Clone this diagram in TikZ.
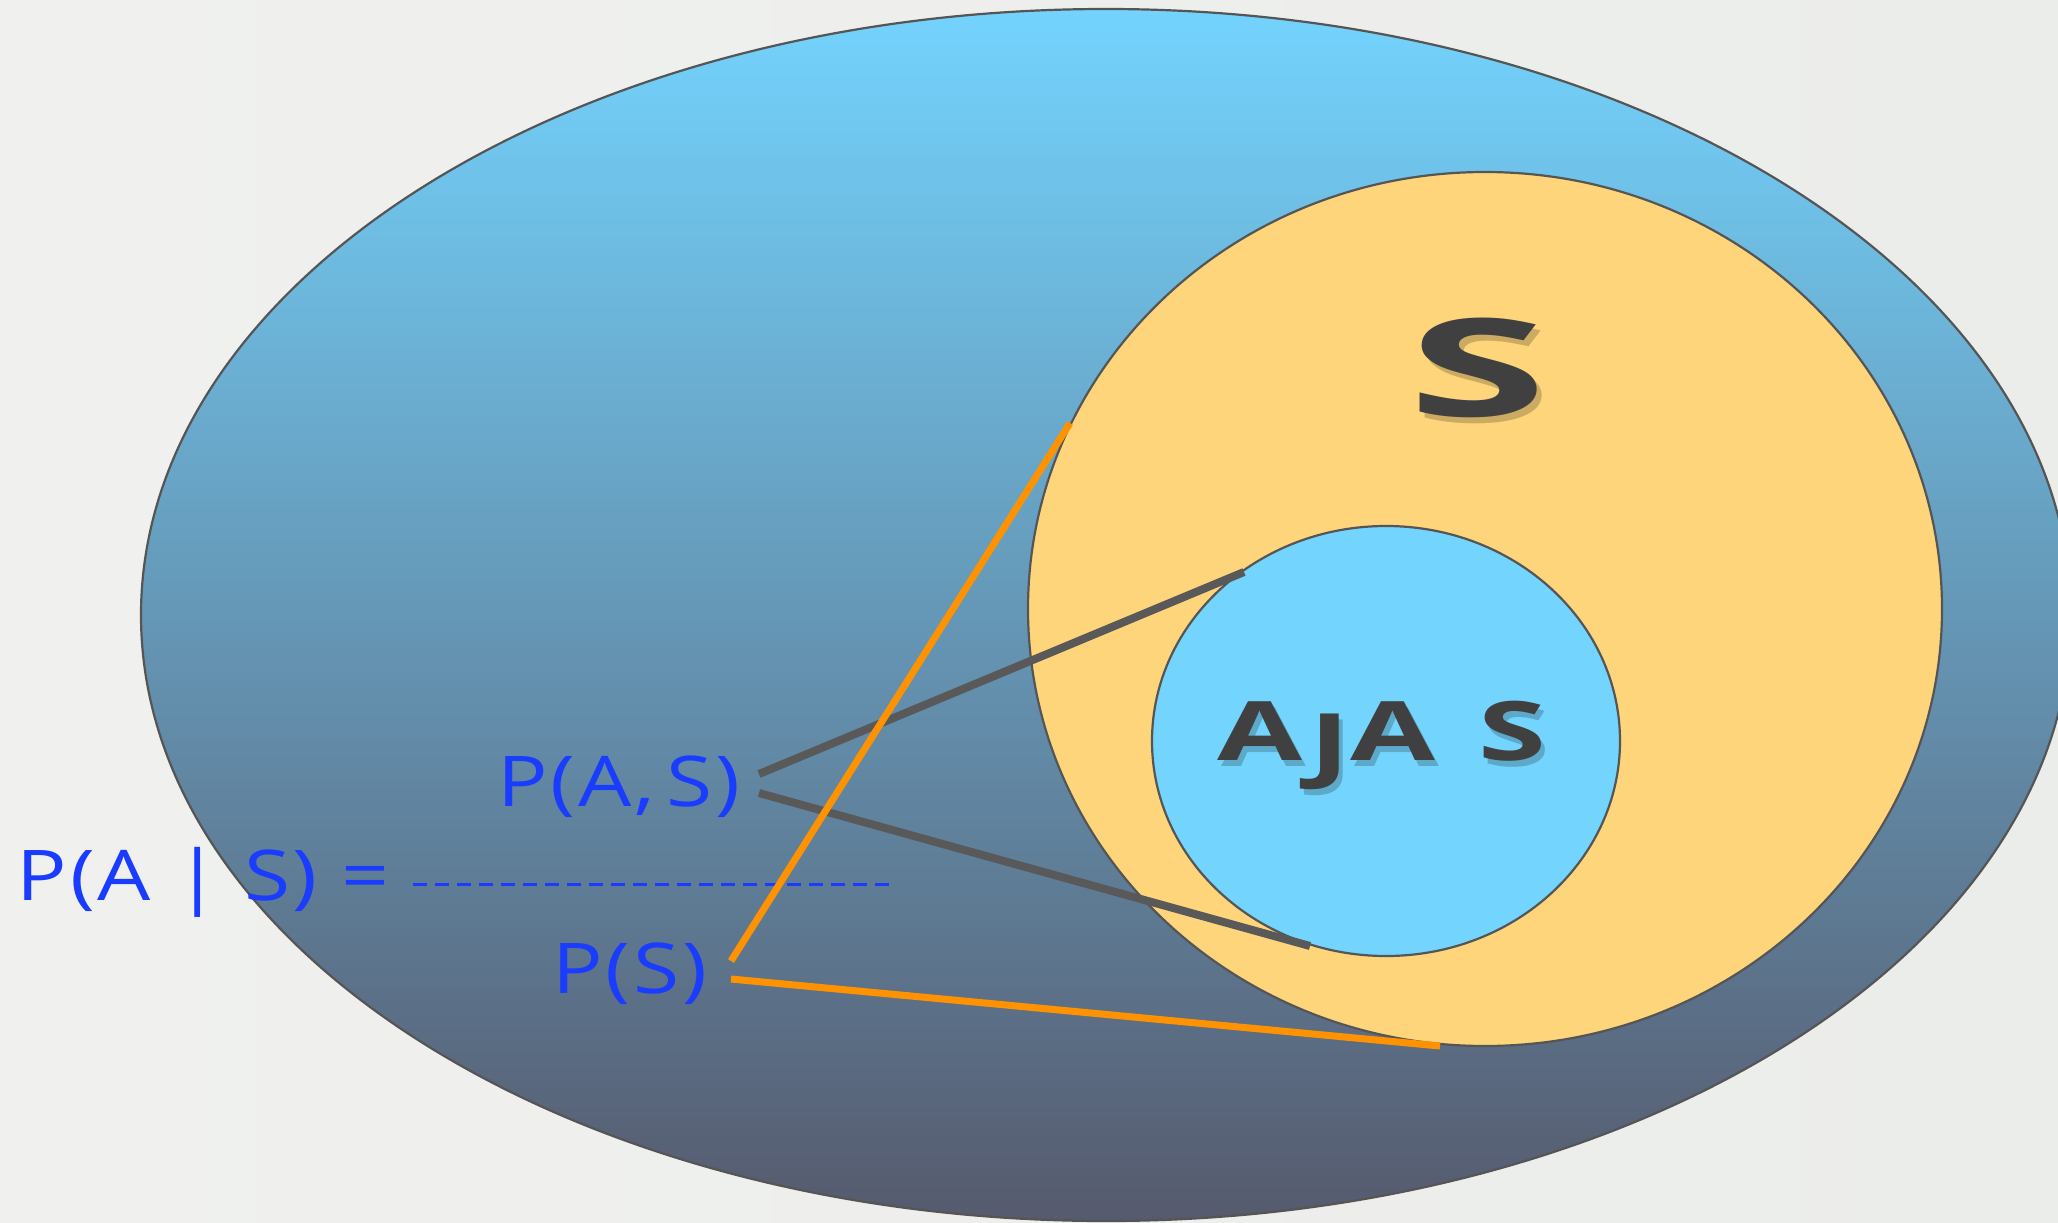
\documentclass[tikz,border=0pt]{standalone}
\usepackage{fontspec}
\setmainfont{Open Sans}
\newfontfamily\bluefont[FakeStretch=1.2, LetterSpace=4]{Open Sans}
\newfontfamily\bigsfont[FakeStretch=1.85]{Open Sans}
\newfontfamily\ajafont[FakeStretch=1.5]{Open Sans}
\usetikzlibrary{calc}
\definecolor{bgc}{HTML}{EBEDEA}
\definecolor{bgl}{HTML}{F0F1EF}
\definecolor{topblue}{HTML}{73D3FD}
\definecolor{midblue}{HTML}{6597B6}
\definecolor{botblue}{HTML}{565A6D}
\definecolor{sfill}{HTML}{FED57A}
\definecolor{afill}{HTML}{73D4FD}
\definecolor{outl}{HTML}{555555}
\definecolor{greyline}{HTML}{595959}
\definecolor{orangeline}{HTML}{FF9200}
\definecolor{textblue}{HTML}{1A3CFF}
\definecolor{darktext}{HTML}{404040}
\tikzset{
  setline/.style={draw=outl, line width=2.2pt},
  blueformula/.style={text=textblue, font=\bluefont\fontsize{70}{76}\selectfont, inner sep=0pt, anchor=center},
  bigslabel/.style={font=\bigsfont\bfseries\fontsize{136}{140}\selectfont, inner sep=0pt},
  ajalabel/.style={font=\ajafont\bfseries\fontsize{82}{86}\selectfont, inner sep=0pt},
  darkcol/.style={text=darktext},
  shadowcol/.style={text=black, text opacity=0.2},
  greyconn/.style={draw=greyline, line width=8pt},
  orangeconn/.style={draw=orangeline, line width=7pt},
}
\newcommand{\ajatext}{A\hspace{7pt}\raisebox{-12pt}{J}A\hspace{44pt}S}
\begin{document}
\begin{tikzpicture}[x=1pt,y=-1pt]
\useasboundingbox (0,0) rectangle (2058,1223);
\begin{scope}
\clip (0,0) rectangle (2058,1223);
% background
\shade[left color=bgl, right color=bgc] (0,0) rectangle (2058,1223);
% universe ellipse
\shade[top color=topblue, bottom color=botblue, middle color=midblue, draw=outl, line width=2.2pt]
  (1106,615) ellipse [x radius=965, y radius=606];
% S ellipse
\path[setline, fill=sfill] (1485,609) ellipse [x radius=457, y radius=437];
% A circle
\path[setline, fill=afill] (1386,741) ellipse [x radius=234, y radius=215];
\end{scope}
% labels with soft shadows
\node[bigslabel, shadowcol] at (1483,374) {S};
\node[bigslabel, darkcol] (slabel) at (1478,368) {S};
\node[ajalabel, shadowcol] at (1386,751) {\ajatext};
\node[ajalabel, darkcol] (alabel) at (1382,745) {\ajatext};
% formulas
\node[blueformula] (pas) at (619,787) {P(A,\,S)};
\node[blueformula] (pcond) at (203,882) {P(A\,\,|\,\,S)\,\,=};
\node[blueformula] (ps) at (630,974) {P(S)};
\coordinate (dashA) at (413,884);
\coordinate (dashB) at (890,884);
\draw[textblue, line width=3pt, dash pattern=on 14pt off 8pt] (dashA) -- (dashB);
% connector end points
\coordinate (g1a) at (759,774);
\coordinate (g1b) at (1244,572);
\coordinate (g2a) at (759,793);
\coordinate (g2b) at (1310,946);
\coordinate (o1a) at (731,961);
\coordinate (o1b) at (1070,423);
\coordinate (o2a) at (731,979);
\coordinate (o2b) at (1440,1046);
\draw[greyconn] (g1a) -- (g1b);
\draw[greyconn] (g2a) -- (g2b);
\draw[orangeconn] (o1a) -- (o1b);
\draw[orangeconn] (o2a) -- (o2b);
\end{tikzpicture}
\end{document}
